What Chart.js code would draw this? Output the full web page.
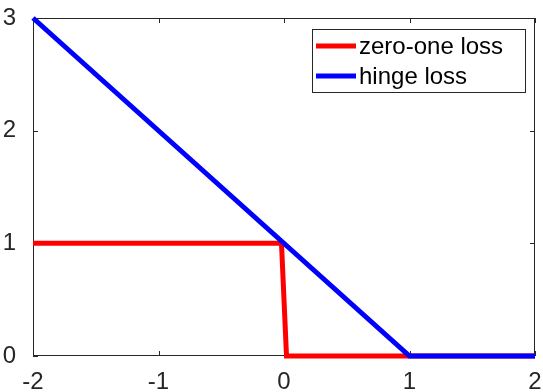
<!DOCTYPE html>
<html>
<head>
<meta charset="utf-8">
<script src="https://cdn.jsdelivr.net/npm/chart.js@4"></script>
<style>
  html, body { margin: 0; padding: 0; background: #fff; }
  #wrap { width: 543px; height: 392px; }
</style>
</head>
<body>
<div id="wrap"><canvas id="myChart" width="543" height="392"></canvas></div>
<script>
// data
const zeroOneX = [-2, -0.02, 0.02, 2];
const zeroOneY = [1, 1, 0, 0];
const hingeX = [-2, 1, 2];
const hingeY = [3, 0, 0];
const xTicks = [-2, -1, 0, 1, 2];
const yTicks = [0, 1, 2, 3];
const seriesNames = ["zero-one loss", "hinge loss"];

const toPoints = (xs, ys) => xs.map((x, i) => ({ x: x, y: ys[i] }));

// box around the plot, inward ticks and a framed legend (MATLAB style)
const framePlugin = {
    id: 'frame',
    beforeDatasetsDraw(chart) {
        const ctx = chart.ctx;
        const a = chart.chartArea;
        const xs = chart.scales.x, ys = chart.scales.y;
        ctx.save();
        ctx.lineWidth = 1;
        ctx.strokeStyle = '#262626';
        ctx.beginPath();
        ctx.moveTo(a.left + 0.5, a.top + 0.5);
        ctx.lineTo(a.right - 0.5, a.top + 0.5);
        ctx.lineTo(a.right - 0.5, a.bottom - 0.5);
        ctx.lineTo(a.left + 0.5, a.bottom - 0.5);
        ctx.closePath();
        ctx.stroke();
        // inward ticks
        ctx.beginPath();
        xTicks.forEach(v => {
            const px = Math.round(xs.getPixelForValue(v)) + 0.5;
            ctx.moveTo(px, a.bottom); ctx.lineTo(px, a.bottom - 5);
            ctx.moveTo(px, a.top); ctx.lineTo(px, a.top + 5);
        });
        yTicks.forEach(v => {
            const py = Math.round(ys.getPixelForValue(v)) + 0.5;
            ctx.moveTo(a.left, py); ctx.lineTo(a.left + 5, py);
            ctx.moveTo(a.right, py); ctx.lineTo(a.right - 5, py);
        });
        ctx.stroke();
        ctx.restore();
    },
    afterDraw(chart) {
        const ctx = chart.ctx;
        ctx.save();
        // legend
        const bx = 312, by = 29, bw = 213, bh = 63;
        ctx.fillStyle = '#fff';
        ctx.fillRect(bx, by, bw, bh);
        ctx.lineWidth = 1;
        ctx.strokeStyle = '#262626';
        ctx.strokeRect(bx + 0.5, by + 0.5, bw, bh);
        ctx.font = '24px "Liberation Sans", Arial, sans-serif';
        ctx.textBaseline = 'middle';
        chart.data.datasets.forEach((ds, i) => {
            const y = by + 17 + i * 30;
            ctx.strokeStyle = ds.borderColor;
            ctx.lineWidth = 5;
            ctx.beginPath();
            ctx.moveTo(bx + 4, y); ctx.lineTo(bx + 44, y);
            ctx.stroke();
            ctx.fillStyle = '#000';
            ctx.fillText(ds.label, bx + 47, y + 1);
        });
        ctx.restore();
    }
};

let ctx = document.getElementById("myChart").getContext('2d');
let myChart = new Chart(ctx, {
    type: 'scatter',
    data: {
        datasets: [{
            label: seriesNames[0],
            data: toPoints(zeroOneX, zeroOneY),
            showLine: true,
            borderColor: '#ff0000',
            backgroundColor: '#ff0000',
            borderWidth: 5,
            pointRadius: 0,
            clip: false,
            order: 1
        }, {
            label: seriesNames[1],
            data: toPoints(hingeX, hingeY),
            showLine: true,
            borderColor: '#0000ff',
            backgroundColor: '#0000ff',
            borderWidth: 5,
            pointRadius: 0,
            clip: false,
            order: 0
        }]
    },
    options: {
        responsive: false,
        animation: false,
        layout: {
            padding: { left: 0, right: 8, top: 18, bottom: 0 }
        },
        plugins: {
            legend: { display: false },
            tooltip: { enabled: false }
        },
        scales: {
            x: {
                type: 'linear',
                min: -2, max: 2,
                afterBuildTicks: s => { s.ticks = xTicks.map(v => ({ value: v })); },
                afterFit: s => { s.height = 36; s.paddingLeft = 0; s.paddingRight = 0; },
                grid: { display: false },
                border: { display: false },
                ticks: {
                    color: '#262626',
                    padding: 4,
                    font: { family: '"Liberation Sans", Arial, sans-serif', size: 24 }
                }
            },
            y: {
                type: 'linear',
                min: 0, max: 3,
                afterBuildTicks: s => { s.ticks = yTicks.map(v => ({ value: v })); },
                afterFit: s => { s.width = 33; s.paddingTop = 0; s.paddingBottom = 0; },
                grid: { display: false },
                border: { display: false },
                ticks: {
                    color: '#262626',
                    padding: 9,
                    font: { family: '"Liberation Sans", Arial, sans-serif', size: 24 }
                }
            }
        }
    },
    plugins: [framePlugin]
});
</script>
</body>
</html>
